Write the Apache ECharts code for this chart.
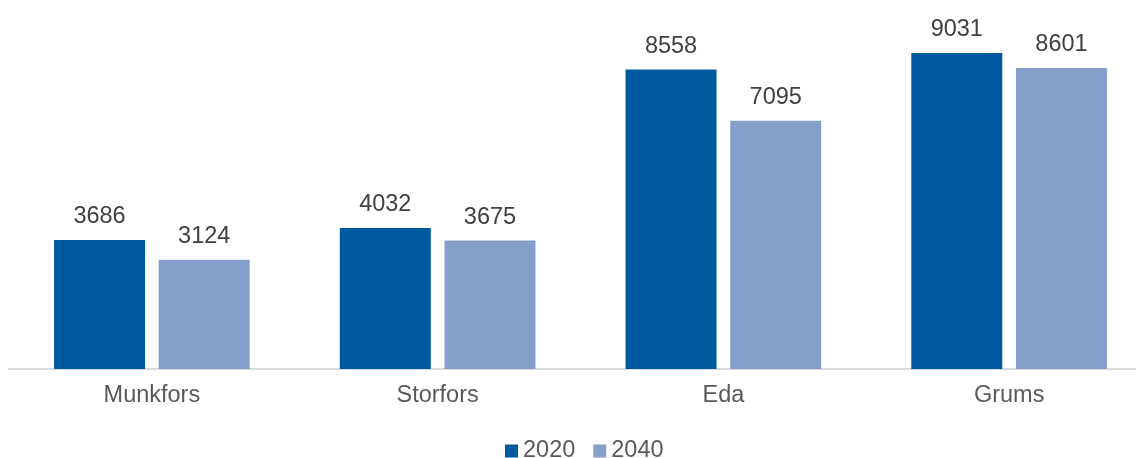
<!DOCTYPE html>
<html>
<head>
<meta charset="utf-8">
<script src="https://cdn.jsdelivr.net/npm/echarts@6/dist/echarts.min.js"></script>
<style>html,body{margin:0;padding:0;background:#fff}#c{width:1136px;height:458px}</style>
</head>
<body>
<div id="c"></div>
<script>
var categories = ["Munkfors", "Storfors", "Eda", "Grums"];
var seriesNames = ["2020", "2040"];
var values2020 = [3686, 4032, 8558, 9031];
var values2040 = [3124, 3675, 7095, 8601];

var chart = echarts.init(document.getElementById('c'), null, {renderer: 'canvas'});
var FONT = 'Liberation Sans, Arial, sans-serif';
var labelStyle = {show: true, position: 'top', distance: 11, color: '#404040', fontSize: 23.5, fontFamily: FONT};
chart.setOption({
  animation: false,
  grid: {left: 9, width: 1143, top: 19, bottom: 89, containLabel: false, outerBoundsMode: 'none'},
  legend: {
    data: seriesNames, top: 439, left: 505, itemWidth: 13, itemHeight: 13, itemGap: 18,
    icon: 'rect', padding: 0,
    textStyle: {color: '#595959', fontSize: 23.5, fontFamily: FONT}
  },
  xAxis: {
    type: 'category', data: categories,
    axisLine: {lineStyle: {color: '#d9d9d9', width: 2}},
    axisTick: {show: false},
    axisLabel: {color: '#595959', fontSize: 23.5, margin: 15, fontFamily: FONT}
  },
  yAxis: {type: 'value', min: 0, max: 10000, show: false, splitLine: {show: false}},
  series: [
    {name: seriesNames[0], type: 'bar', data: values2020, barWidth: 91, barGap: '15%', itemStyle: {color: '#005AA0'}, label: labelStyle},
    {name: seriesNames[1], type: 'bar', data: values2040, barWidth: 91, barGap: '15%', itemStyle: {color: '#869FCA'}, label: labelStyle}
  ]
});
</script>
</body>
</html>
